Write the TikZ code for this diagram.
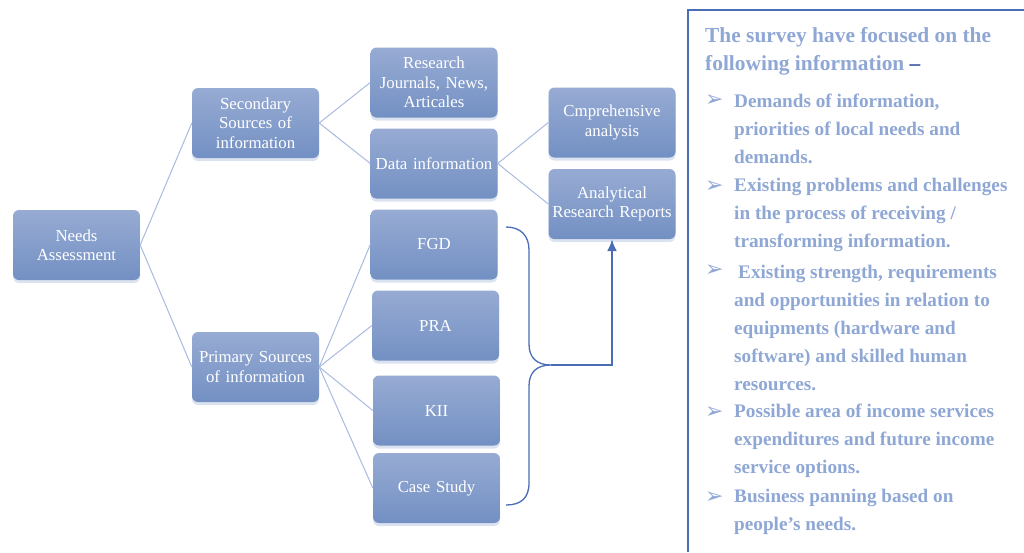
\documentclass[tikz,border=0pt]{standalone}
\usepackage{fontspec}
\setmainfont{Liberation Serif}
\newfontfamily\symfont{DejaVu Sans}
\usetikzlibrary{shadows,arrows.meta}
\definecolor{boxtop}{HTML}{97ABD3}
\definecolor{boxbot}{HTML}{7390C3}
\definecolor{linkc}{HTML}{A9BADF}
\definecolor{bracec}{HTML}{4A6DB5}
\definecolor{txtc}{HTML}{8FA7D5}
\definecolor{dashc}{HTML}{2E4C9A}
\tikzset{
  box/.style={draw=none, rounded corners=6pt, top color=boxtop, bottom color=boxbot,
    minimum width=127pt, minimum height=70pt, text width=125pt, align=center,
    text=white, font=\fontsize{16.8}{19.5}\selectfont, inner sep=0pt,
    drop shadow={shadow xshift=0pt, shadow yshift=-3pt, opacity=0.25, fill=boxbot}},
  link/.style={draw=linkc, line width=1pt},
  bracel/.style={draw=bracec, line width=1.3pt},
  arrowl/.style={draw=bracec, line width=2pt, -{Latex[length=12pt,width=10pt]}},
  info/.style={text=txtc, font=\bfseries\fontsize{19.2}{28}\selectfont, anchor=west, inner sep=0pt, align=left},
  bul/.style={text=txtc, font=\symfont\fontsize{22}{22}\selectfont, anchor=west, inner sep=0pt}
}
\begin{document}
\begin{tikzpicture}[x=1pt,y=-1pt]
\useasboundingbox (0,0) rectangle (1024,552);
% boxes
\node[box] (na) at (76.5,245) {Needs\\Assessment};
\node[box] (sec) at (255.5,123) {Secondary\\Sources of\\information};
\node[box] (pri) at (255.5,367) {Primary Sources\\of information};
\node[box] (rj) at (434,82.5) {Research\\Journals, News,\\Articales};
\node[box] (di) at (434,163.5) {Data information};
\node[box] (cm) at (612,122.5) {Cmprehensive\\analysis};
\node[box] (ar) at (612,204) {Analytical\\Research Reports};
\node[box] (fgd) at (434,244.5) {FGD};
\node[box] (pra) at (435.5,325.5) {PRA};
\node[box] (kii) at (436.5,410.5) {KII};
\node[box] (cs) at (436.5,488) {Case Study};
% links
\draw[link] (na.east) -- (sec.west);
\draw[link] (na.east) -- (pri.west);
\draw[link] (sec.east) -- (rj.west);
\draw[link] (sec.east) -- (di.west);
\draw[link] (di.east) -- (cm.west);
\draw[link] (di.east) -- (ar.west);
\draw[link] (pri.east) -- (fgd.west);
\draw[link] (pri.east) -- (pra.west);
\draw[link] (pri.east) -- (kii.west);
\draw[link] (pri.east) -- (cs.west);
% brace
\coordinate (btop) at (506,227);
\coordinate (bbot) at (506,505);
\coordinate (btip) at (551,365);
\draw[bracel] (btop) .. controls (521,227) and (529,236) .. (529,250) -- (529,344)
  .. controls (529,358) and (537,365) .. (btip)
  .. controls (537,365) and (529,372) .. (529,386) -- (529,483)
  .. controls (529,498) and (521,505) .. (bbot);
\draw[arrowl] (btip) -| (ar.south);
% info panel
\draw[draw=bracec, line width=1.2pt] (688,552) -- (688,10) -- (1030,10);
\node[text=txtc, font=\bfseries\fontsize{21.4}{28}\selectfont, anchor=west, inner sep=0pt, align=left] (title) at (705,51)
  {The survey have focused on the\\following information {\color{dashc}–}};
\node[bul] (b1) at (705,101) {➢};
\node[info] (t1) at (734,129) {Demands of information,\\priorities of local needs and\\demands.};
\node[bul] (b2) at (705,187) {➢};
\node[info] (t2) at (734,215) {Existing problems and challenges\\in the process of receiving /\\transforming information.};
\node[bul] (b3) at (705,271) {➢};
\node[info] (t3) at (734,327.5) {\hspace{4pt}Existing strength, requirements\\and opportunities in relation to\\equipments (hardware and\\software) and skilled human\\resources.};
\node[bul] (b4) at (705,413) {➢};
\node[info] (t4) at (734,441) {Possible area of income services\\expenditures and future income\\service options.};
\node[bul] (b5) at (705,498) {➢};
\node[info] (t5) at (734,512) {Business panning based on\\people’s needs.};
\end{tikzpicture}
\end{document}
